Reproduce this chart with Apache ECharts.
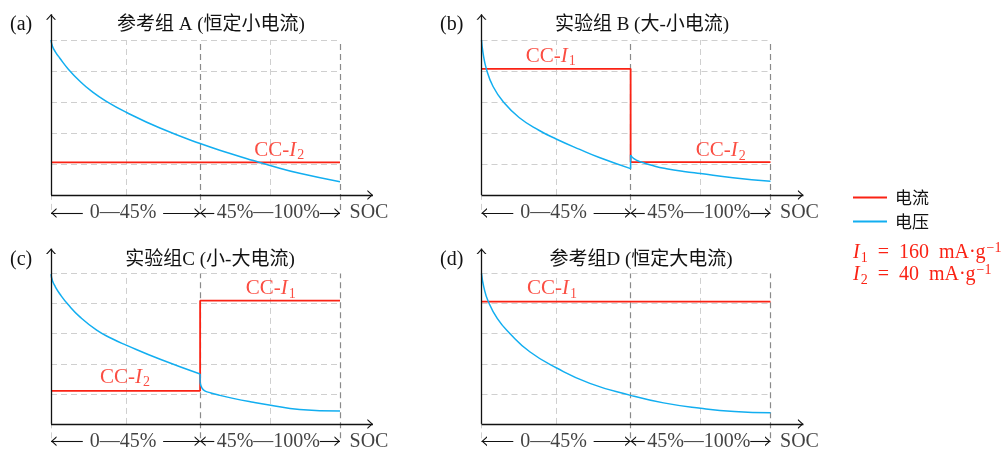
<!DOCTYPE html>
<html><head><meta charset="utf-8">
<script src="https://cdn.jsdelivr.net/npm/echarts@6/dist/echarts.min.js"></script>
<style>html,body{margin:0;padding:0;background:#fff}#c{width:1005px;height:454px}</style>
</head><body><div id="c"></div>
<script>
// ---------- data ----------
const panelLabels = ['(a)', '(b)', '(c)', '(d)'];
const panelTitles = ['参考组 A (恒定小电流)', '实验组 B (大-小电流)', '实验组C (小-大电流)', '参考组D (恒定大电流)'];
const legendNames = ['电流', '电压'];
const formulaValues = ['160', '40'];
// schematic SOC axis positions (0 … 45% … 100%) and voltage grid rows
const socTicks = [0, 26, 51.6, 75.8, 100];
const voltTicks = [1, 2, 3, 4, 5];
const socBreak = 51.6;           // 45 %
const socRowLabels = ['0—45%', '45%—100%', 'SOC'];

// current (red)
const curSocA = [0, 100];               const curA = [1.05, 1.05];
const curSocB = [0, 51.6, 51.6, 100];   const curB = [4.07, 4.07, 1.06, 1.06];
const curSocC = [0, 51.6, 51.6, 100];   const curC = [1.1, 1.1, 4.1, 4.1];
const curSocD = [0, 100];               const curD = [4.07, 4.07];

// voltage (blue)
const voltSocA = [0, 0.5, 1.5, 3, 6, 10, 14, 19, 26, 37.7, 51.6, 62, 70, 75.8, 86, 100];
const voltA    = [5.0, 4.80, 4.62, 4.42, 4.06, 3.67, 3.35, 3.03, 2.67, 2.16, 1.66, 1.34, 1.11, 0.95, 0.70, 0.43];
const voltSocB1 = [0, 0.5, 1.7, 4, 7.6, 13, 20, 26, 34, 41, 51.6];
const voltB1    = [5.0, 4.6, 4.06, 3.5, 3.0, 2.5, 2.08, 1.80, 1.47, 1.2, 0.85];
const voltSocB2 = [51.6, 52.6, 55, 60, 64, 70, 75.8, 87, 100];
const voltB2    = [1.29, 1.18, 1.07, 0.93, 0.85, 0.76, 0.69, 0.56, 0.44];
const voltSocC1 = [0, 0.5, 1.5, 3, 6, 10, 15.8, 21, 26, 38, 51.6];
const voltC1    = [4.98, 4.76, 4.56, 4.33, 3.96, 3.56, 3.12, 2.84, 2.62, 2.14, 1.66];
const voltSocC2 = [51.6, 52.2, 53.2, 55, 58, 63, 70, 75.5, 86, 100];
const voltC2    = [1.37, 1.2, 1.1, 1.04, 0.96, 0.85, 0.72, 0.63, 0.48, 0.43];
const voltSocD = [0, 0.8, 2.3, 5.5, 9.8, 16.7, 26, 37.5, 51.6, 63, 75.8, 87.5, 100];
const voltD    = [5.0, 4.55, 4.08, 3.5, 3.01, 2.4, 1.86, 1.35, 0.95, 0.70, 0.52, 0.41, 0.37];

// ---------- helpers ----------
const RED = '#fa2214', BLUE = '#12aef0', INK = '#121212';
const SERIF = "'Liberation Serif', 'Noto Sans CJK SC', serif";
const zip = (xs, ys) => xs.map((x, i) => [x, ys[i]]);
// upward chevron, apex at the centre of its 12x12 box -> LaTeX-like arrow tip
const CHEV = 'path://M6,6 L11,11.5 L9.5,11.5 L6,7.6 L2.5,11.5 L1,11.5 Z M0,0 L0.01,0 L0,0.01 Z M12,12 L11.99,12 L12,11.99 Z';

const panels = [
  { left: 51,    top: 13.65, cur: zip(curSocA, curA), volt: [zip(voltSocA, voltA)],
    labels: [{ t: '2', x: 79, y: 1.45 }] },
  { left: 481.5, top: 13.65, cur: zip(curSocB, curB), volt: [zip(voltSocB1, voltB1), zip(voltSocB2, voltB2)],
    labels: [{ t: '1', x: 24, y: 4.46 }, { t: '2', x: 82.8, y: 1.42 }] },
  { left: 51,    top: 248,   cur: zip(curSocC, curC), volt: [zip(voltSocC1, voltC1), zip(voltSocC2, voltC2)],
    labels: [{ t: '2', x: 25.6, y: 1.54 }, { t: '1', x: 76, y: 4.49 }] },
  { left: 481.5, top: 248,   cur: zip(curSocD, curD), volt: [zip(voltSocD, voltD)],
    labels: [{ t: '1', x: 24.4, y: 4.49 }] }
];

const X_MAX = 112, Y_MIN = -1, Y_MAX = 5.85;
const grids = [], xAxes = [], yAxes = [], series = [];
const lightDash = { color: '#cfcfcf', width: 1, type: [6, 4] };
const darkDash = { color: '#8a8a8a', width: 1.2, type: [6, 4] };
const rowY = -0.58;
const richCC = {
  n: { fontSize: 21, fontFamily: SERIF },
  i: { fontSize: 21, fontFamily: SERIF, fontStyle: 'italic' },
  s: { fontSize: 14, lineHeight: 14, fontFamily: SERIF, padding: [10, 0, 0, 1] }
};

panels.forEach((p, i) => {
  grids.push({ left: p.left, top: p.top, width: X_MAX * 2.89, height: (Y_MAX - Y_MIN) * 31 });
  xAxes.push({ type: 'value', gridIndex: i, min: 0, max: X_MAX, show: false });
  yAxes.push({ type: 'value', gridIndex: i, min: Y_MIN, max: Y_MAX, show: false });
  const top = voltTicks[voltTicks.length - 1];
  const xEnd = socTicks[socTicks.length - 1];

  // grid lines
  const gl = [];
  voltTicks.forEach(v => gl.push([{ coord: [0, v], lineStyle: lightDash }, { coord: [xEnd, v] }]));
  socTicks.slice(1).forEach(s => {
    const dark = (s === socBreak || s === xEnd);
    gl.push([{ coord: [s, dark ? rowY + 0.1 : 0], lineStyle: dark ? darkDash : lightDash }, { coord: [s, top] }]);
  });
  gl.push([{ coord: [0, rowY + 0.1], lineStyle: lightDash }, { coord: [0, 0] }]);
  series.push({
    type: 'line', xAxisIndex: i, yAxisIndex: i, data: [[0, 0]], showSymbol: false, silent: true,
    lineStyle: { opacity: 0 }, z: 1,
    markLine: { silent: true, z: 1, symbol: ['none', 'none'], label: { show: false }, animation: false, data: gl }
  });

  // axes and SOC row arrows
  const ax = { color: INK, width: 1.3, type: 'solid' };
  const ar = { color: INK, width: 1.1, type: 'solid' };
  const arrow = (a, b, st) => [{ coord: a, lineStyle: st }, { coord: b, symbol: CHEV, symbolSize: 12 }];
  series.push({
    type: 'line', xAxisIndex: i, yAxisIndex: i, data: [[0, 0]], showSymbol: false, silent: true,
    lineStyle: { opacity: 0 }, z: 6,
    markLine: {
      silent: true, z: 6, symbol: ['none', 'none'], label: { show: false }, animation: false,
      data: [
        arrow([0, 0], [111.4, 0], ax),
        arrow([0, 0], [0, 5.83], ax),
        arrow([11, rowY], [0, rowY], ar),
        arrow([38.8, rowY], [socBreak, rowY], ar),
        arrow([56.5, rowY], [socBreak, rowY], ar),
        arrow([93, rowY], [xEnd, rowY], ar)
      ]
    }
  });

  // current
  series.push({
    type: 'line', name: legendNames[0], xAxisIndex: i, yAxisIndex: i, data: p.cur, showSymbol: false,
    lineStyle: { color: RED, width: 1.8 }, itemStyle: { color: RED }, z: 3, animation: false
  });
  // voltage
  p.volt.forEach(seg => series.push({
    type: 'line', name: legendNames[1], xAxisIndex: i, yAxisIndex: i, data: seg, showSymbol: false,
    smooth: 0.5,
    lineStyle: { color: BLUE, width: 1.5 }, itemStyle: { color: BLUE }, z: 4, animation: false
  }));
  if (p.volt.length > 1) {
    const a = p.volt[0], b = p.volt[1];
    series.push({
      type: 'line', name: legendNames[1], xAxisIndex: i, yAxisIndex: i, data: [a[a.length - 1], b[0]],
      showSymbol: false, lineStyle: { color: BLUE, width: 1.5 }, itemStyle: { color: BLUE }, z: 4, animation: false
    });
  }

  // text labels inside plot
  const lab = p.labels.map(l => ({
    value: [l.x, l.y],
    label: { formatter: '{n|CC-}{i|I}{s|' + l.t + '}', color: RED }
  }));
  lab.push({ value: [24.9, rowY], label: { formatter: socRowLabels[0], color: INK } });
  lab.push({ value: [75.2, rowY], label: { formatter: socRowLabels[1], color: INK } });
  lab.push({ value: [103.3, rowY], label: { formatter: socRowLabels[2], color: INK, align: 'left' } });
  series.push({
    type: 'scatter', xAxisIndex: i, yAxisIndex: i, data: lab, symbolSize: 0.1, silent: true,
    itemStyle: { color: 'rgba(0,0,0,0)' }, z: 7, animation: false,
    label: { show: true, position: 'inside', fontSize: 20, fontFamily: SERIF, rich: richCC }
  });
});

// static texts
const graphic = [];
const labPos = [[10, 25], [440, 25], [10, 260], [440, 260]];
const titlePos = [[211, 25], [642, 25], [210, 260], [641, 260]];
panelLabels.forEach((t, i) => graphic.push({
  type: 'text', x: labPos[i][0], y: labPos[i][1],
  style: { text: t, font: "20px 'Liberation Serif', serif", fill: INK, align: 'left', verticalAlign: 'middle' }
}));
panelTitles.forEach((t, i) => graphic.push({
  type: 'text', x: titlePos[i][0], y: titlePos[i][1],
  style: { text: t, font: "19px " + SERIF, fill: INK, align: 'center', verticalAlign: 'middle' }
}));
formulaValues.forEach((v, i) => graphic.push({
  type: 'text', x: 853, y: 253 + i * 22,
  style: {
    text: '{i|I}{s|' + (i + 1) + '}{n|\u2002=\u2002' + v + '  mA·g}{p|−1}',
    fill: RED, align: 'left', verticalAlign: 'middle',
    rich: {
      i: { fontSize: 20, fontFamily: SERIF, fontStyle: 'italic', fill: RED },
      n: { fontSize: 20, fontFamily: SERIF, fill: RED },
      s: { fontSize: 14, lineHeight: 14, fontFamily: SERIF, fill: RED, padding: [10, 0, 0, 1] },
      p: { fontSize: 14, lineHeight: 14, fontFamily: SERIF, fill: RED, padding: [0, 0, 10, 1] }
    }
  }
}));

const chart = echarts.init(document.getElementById('c'), null, { renderer: 'canvas' });
chart.setOption({
  animation: false,
  backgroundColor: '#fff',
  textStyle: { fontFamily: SERIF },
  grid: grids, xAxis: xAxes, yAxis: yAxes, series: series,
  legend: {
    data: legendNames, orient: 'vertical', left: 853, top: 189, padding: 0,
    icon: 'rect', itemWidth: 34, itemHeight: 2, itemGap: 7, selectedMode: false,
    textStyle: { fontSize: 17, fontFamily: "'Noto Sans CJK SC'", color: INK, padding: [0, 0, 0, 3] }
  },
  graphic: graphic
});
</script></body></html>
